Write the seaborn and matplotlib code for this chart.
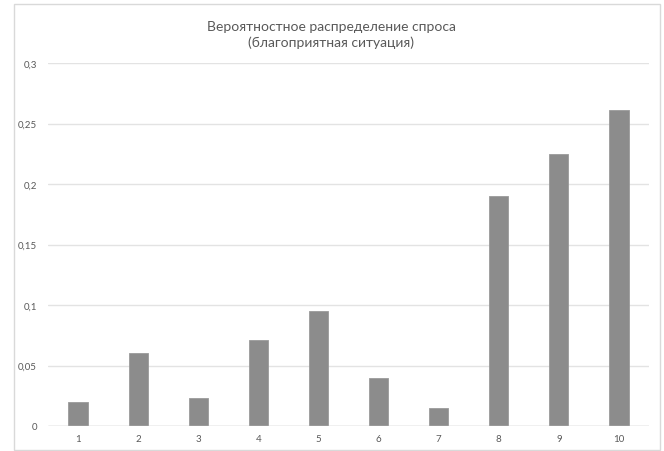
import matplotlib
matplotlib.use("Agg")
import matplotlib.pyplot as plt
import seaborn as sns
import pandas as pd
from matplotlib.patches import Rectangle

categories = ["1", "2", "3", "4", "5", "6", "7", "8", "9", "10"]
probabilities = [0.020, 0.060, 0.023, 0.071, 0.095, 0.040, 0.015, 0.190, 0.225, 0.261]
y_ticks = [0, 0.05, 0.1, 0.15, 0.2, 0.25, 0.3]
y_tick_labels = ["0", "0,05", "0,1", "0,15", "0,2", "0,25", "0,3"]
title_text = "Вероятностное распределение спроса\n(благоприятная ситуация)"

df = pd.DataFrame({"cat": categories, "p": probabilities})

sns.set_theme(style="white")
plt.rcParams["font.family"] = ["Lato", "DejaVu Sans"]

W, H = 664, 452
fig = plt.figure(figsize=(W / 100, H / 100), dpi=100)
ax = fig.add_axes([48 / W, 1 - 427 / H, (649 - 48) / W, (427 - 64) / H])

sns.barplot(data=df, x="cat", y="p", ax=ax, color="#8c8c8c", width=0.32,
            saturation=1, edgecolor="#9a9a9a", linewidth=0.6, zorder=3)

ax.set_xlim(-0.5, 9.5)
ax.set_ylim(0, 0.3)
ax.set_yticks(y_ticks)
ax.set_yticklabels(y_tick_labels)
ax.set_xlabel("")
ax.set_ylabel("")
for s in ["top", "right", "left", "bottom"]:
    ax.spines[s].set_visible(False)
ax.grid(axis="y", color="#e3e3e3", linewidth=1.0, zorder=0)
ax.axhline(0, color="#d0d0d0", linewidth=1.0, zorder=4)
ax.tick_params(axis="both", length=0, labelsize=7, labelcolor="#595959")
ax.tick_params(axis="y", pad=8)
ax.tick_params(axis="x", pad=6)

fig.text(331 / W, 1 - 35 / H, title_text, ha="center", va="center",
         fontsize=10, color="#595959", linespacing=1.4)

fig.patches.append(Rectangle((14 / W, 1 - 451 / H), (660 - 14) / W, (451 - 5) / H,
                             transform=fig.transFigure, fill=False,
                             edgecolor="#d9d9d9", linewidth=1.0))

fig.savefig("out.png", dpi=100)
